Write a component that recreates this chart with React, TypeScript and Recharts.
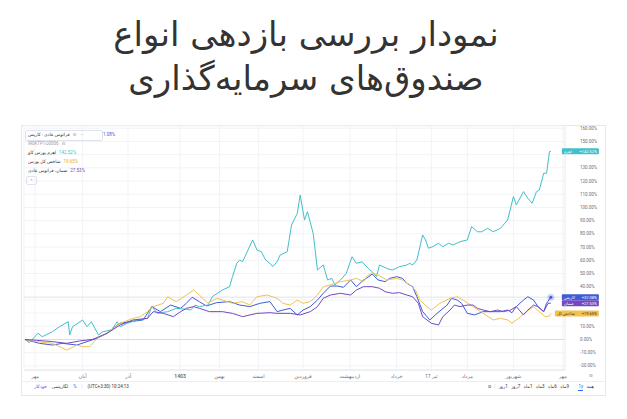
import { LineChart, Line, XAxis, YAxis, CartesianGrid, ReferenceLine, ReferenceDot } from "recharts";

const FONT = 'Roboto, "DejaVu Sans", sans-serif';

const titleLines = ["نمودار بررسی بازدهی انواع", "صندوق\u200cهای سرمایه\u200cگذاری"];

// days since start of window, cumulative return in %
const tealDays = [0, 3, 9, 12, 19, 24, 30, 31, 33, 40, 43, 46, 51, 54, 60, 64, 66, 71, 78, 85, 88, 92, 99, 105, 112, 115, 118, 121, 127, 130, 137, 142, 144, 147, 149, 151, 158, 161, 164, 167, 170, 172, 175, 177, 182, 185, 189, 191, 194, 196, 200, 203, 207, 210, 213, 215, 219, 223, 227, 230, 234, 236, 239, 241, 244, 246, 251, 255, 260, 265, 267, 269, 272, 276, 278, 280, 283, 287, 290, 294, 297, 302, 307, 310, 314, 317, 321, 325, 330, 333, 335, 339, 341, 346, 349, 352, 355, 357, 360, 362, 364, 365];
const tealValues = [0, -2.4, 4.7, 2.1, 5.9, 9.7, 13.5, 3.4, 9.7, 14.8, 9.7, 13.5, 3.4, 5.9, 7.2, 13.5, 9.7, 12.3, 14.8, 16, 24.9, 19.8, 21.1, 23.6, 22.9, 22.3, 26.1, 24.9, 26.1, 32.4, 37.5, 40, 47.6, 57.7, 60.2, 58.9, 75.4, 67.8, 66.5, 60.2, 57.7, 55.2, 58.9, 63.9, 66.5, 86.7, 95.5, 109.4, 90.5, 96.8, 80.4, 52.7, 56.5, 45.1, 46.3, 41.3, 45.1, 50.1, 62.7, 57.7, 58.9, 56.4, 53, 51.3, 47.6, 56.4, 53.9, 52.6, 55.2, 56.4, 57.7, 56.4, 60.2, 79.2, 75.4, 69.1, 70.3, 72.9, 70.3, 72.9, 71.6, 74.1, 75.4, 85.5, 81.6, 81.6, 84.2, 81.6, 84.2, 88, 90.5, 108.2, 101.9, 112, 107, 103.2, 112, 113.3, 125.9, 125.9, 142.3, 142.52];

const yellowDays = [0, 8, 19, 29, 36, 40, 45, 50, 57, 66, 75, 80, 85, 89, 96, 99, 105, 112, 117, 121, 127, 133, 137, 144, 151, 156, 161, 168, 175, 179, 184, 189, 193, 198, 203, 207, 212, 219, 226, 230, 235, 237, 241, 245, 251, 258, 262, 267, 271, 274, 279, 282, 288, 295, 300, 304, 311, 318, 325, 330, 335, 338, 344, 348, 353, 357, 361, 364, 365];
const yellowValues = [0, -1.6, -2.9, -8, -4.2, -5.4, -5.4, 0.9, 4.7, 12.3, 16, 17.3, 21.1, 24.9, 27.4, 32.4, 28.6, 33.7, 37.5, 33.7, 27.4, 31.2, 29.9, 27.4, 28.7, 26.1, 32.4, 33.7, 31.2, 27.4, 26.1, 29.9, 27.4, 28.7, 33.7, 40, 41.3, 43.8, 45.1, 46.3, 43.8, 47.6, 50.6, 48.9, 45.1, 46.3, 45.1, 41.3, 37.5, 29.9, 24.9, 22.3, 27.4, 31.2, 32.4, 29.9, 24.9, 19.8, 14.8, 16, 14.8, 12.3, 17.3, 21.1, 24.9, 21.1, 17.3, 17.8, 19.65];

const blueDays = [0, 10, 19, 26, 36, 43, 50, 57, 61, 66, 73, 82, 88, 94, 101, 108, 112, 116, 121, 126, 133, 142, 149, 156, 163, 170, 175, 179, 184, 189, 193, 198, 203, 207, 212, 217, 221, 226, 230, 235, 237, 241, 245, 250, 253, 258, 262, 265, 269, 272, 276, 281, 286, 293, 296, 300, 303, 307, 312, 318, 324, 330, 335, 338, 341, 346, 349, 353, 356, 360, 362, 365];
const blueValues = [0, -2.9, -4.2, -2.9, -4.2, -1.6, 0.9, 4.7, 8.5, 12.3, 13.5, 14.8, 24.9, 21.1, 26.1, 23.6, 27.4, 32, 28.6, 25.4, 27.9, 28.7, 26.1, 24.9, 27.4, 28.7, 21.1, 22.3, 23.6, 18.6, 22.3, 24.9, 29.9, 35, 40.5, 40.5, 39.5, 45.1, 40, 45.1, 46.3, 49.6, 45.1, 43.8, 46.3, 47.6, 46.3, 42.6, 40, 32.4, 21.1, 14.8, 19.8, 26.1, 31.2, 29.9, 27.4, 19.8, 18.6, 21.1, 21.1, 21.1, 22.3, 20.3, 24.9, 29.9, 32.4, 29.9, 24.9, 21.1, 27.4, 32.08];

const purpleDays = [0, 8, 19, 29, 38, 47, 57, 66, 75, 85, 89, 96, 103, 108, 112, 117, 121, 128, 137, 144, 151, 161, 170, 175, 184, 191, 198, 203, 207, 212, 219, 226, 230, 235, 237, 241, 246, 250, 255, 260, 265, 269, 273, 276, 282, 287, 290, 295, 298, 302, 307, 311, 314, 318, 323, 328, 332, 337, 341, 346, 349, 353, 356, 360, 363, 365];
const purpleValues = [0, -0.6, -1.6, -2.9, -1.1, 0.1, 4.7, 11, 14.8, 16, 21.1, 19.8, 17.3, 21.1, 23.6, 24.9, 23.6, 21.1, 21.1, 19.8, 17.3, 19.8, 20.3, 19.8, 19.8, 18.6, 21.1, 24.9, 31.2, 33.7, 35, 33.7, 37.5, 40, 40, 40, 38.8, 36.2, 35, 35.5, 33.7, 32.4, 27.4, 17.3, 12.3, 11, 17.3, 22.3, 26.1, 24.9, 26.1, 26.1, 23.6, 22.3, 21.1, 22.3, 21.1, 22.3, 24.9, 18.6, 22.3, 26.1, 24.9, 21.1, 27.4, 27.53];

const monthTicks = [7, 40, 71.5, 107.6, 135, 162, 193, 225.5, 258, 282, 307, 339, 373.4];
const monthLabels = ["مهر", "آبان", "آذر", "1403", "بهمن", "اسفند", "فروردین", "اردیبهشت", "خرداد", "17 تیر", "مرداد", "شهریور", "مهر"];
const percentTicks = [-20, -10, 0, 10, 20, 30, 40, 50, 60, 70, 80, 90, 100, 110, 120, 130, 140, 150, 160];

const rangeButtons = ["1روز", "7روز", "1ماه", "3ماه", "6ماه", "9ماه"];

const toData = (days: number[], values: number[]) => days.map((d, i) => ({ d, v: values[i] }));

const COLORS = { teal: "#41bfca", blue: "#3f5bd8", purple: "#7448c2", yellow: "#f2c24f" };

const series = [
    { key: "blue", name: "کاریس", color: COLORS.blue, data: toData(blueDays, blueValues), last: blueValues[blueValues.length - 1], text: "#fff", wide: false },
    { key: "teal", name: "اهرم", color: COLORS.teal, data: toData(tealDays, tealValues), last: tealValues[tealValues.length - 1], text: "#fff", wide: false },
    { key: "yellow", name: "شاخص کل", color: COLORS.yellow, data: toData(yellowDays, yellowValues), last: yellowValues[yellowValues.length - 1], text: "#333", wide: true },
    { key: "purple", name: "صمان", color: COLORS.purple, data: toData(purpleDays, purpleValues), last: purpleValues[purpleValues.length - 1], text: "#fff", wide: false },
];

// tick labels hidden behind the end-value tags, as on the reference
const lastValues = series.map(s => s.last);
const coveredByTag = (v: number) => lastValues.some(l => Math.abs(l - v) < 4.5);

const MonthTick = (props: any) => {
    const { x, y, payload } = props;
    const idx = monthTicks.indexOf(payload.value);
    const label = monthLabels[idx] ?? "";
    return (
        <text x={x} y={y} dy="0.71em" textAnchor="middle" fontSize={5} fill="#6a6d78" fontFamily={FONT} fontWeight={label === "1403" ? 700 : 400}>
            {label}
        </text>
    );
};

const PercentTick = (props: any) => {
    const { x, y, payload } = props;
    if (coveredByTag(payload.value)) return <g />;
    return (
        <text x={x} y={y} dy="0.35em" textAnchor="start" fontSize={4.5} fill="#6a6d78" fontFamily={FONT}>
            {`${payload.value.toFixed(2)}%`}
        </text>
    );
};

const makeTag = (s: typeof series[number]) => (props: any) => {
    const { cx, cy } = props;
    const left = s.wide ? cx + 4 : cx + 11;
    return (
        <g>
            <rect x={left} y={cy - 3} width={cx + 48 - left} height={6} fill={s.color} rx={1} />
            <text x={left + 2} y={cy} dy="0.35em" fontSize={4} fill={s.text} fontFamily={FONT}>{s.name}</text>
            <text x={cx + 46} y={cy} dy="0.35em" fontSize={4} fill={s.text} fontFamily={FONT} textAnchor="end">
                {`+${s.last.toFixed(2)}%`}
            </text>
        </g>
    );
};

const LastDot = (props: any) => {
    const { cx, cy } = props;
    return (
        <g>
            <circle cx={cx} cy={cy} r={3.5} fill={COLORS.blue} fillOpacity={0.25} />
            <circle cx={cx} cy={cy} r={1.5} fill={COLORS.blue} />
        </g>
    );
};

const small = { fontSize: 4.5, fontFamily: FONT, whiteSpace: "nowrap" as const, lineHeight: "6px" };
const abs = { ...small, position: "absolute" as const };
const row = (top: number) => ({ position: "absolute" as const, left: 28, top, display: "flex", gap: 3, alignItems: "center", ...small });

export default function App() {
    return (
        <div style={{ position: "absolute", left: 0, top: 0, width: 627, height: 419, background: "#fff", overflow: "hidden" }}>
            <div style={{ position: "absolute", left: 0, top: 12, width: 612, textAlign: "center", fontFamily: '"DejaVu Sans"', fontSize: 34, lineHeight: "44px", color: "#333", direction: "rtl" }}>
                <div>{titleLines[0]}</div>
                <div>{titleLines[1]}</div>
            </div>

            <div style={{ position: "absolute", left: 21, top: 125, width: 583, height: 269, border: "1px solid #e6e8ee" }} />
            <div style={{ position: "absolute", left: 21, top: 381, width: 584, height: 1, background: "#eceef2" }} />

            <div style={{ position: "absolute", left: 20, top: 125 }}>
                <LineChart width={585} height={257} margin={{ top: 1, right: 0, bottom: 0, left: 4 }}>
                    <CartesianGrid stroke="#f1f3f7" />
                    <XAxis dataKey="d" type="number" domain={[-0.7, 374.8]} allowDataOverflow ticks={monthTicks} tick={<MonthTick />} tickSize={0} tickMargin={4} height={12} axisLine={{ stroke: "#e4e6eb" }} interval={0} />
                    <YAxis orientation="right" type="number" domain={[-23.1, 161.7]} allowDataOverflow ticks={percentTicks} width={40} tickSize={0} tickMargin={15} axisLine={{ stroke: "#eef0f4" }} tick={<PercentTick />} interval={0} />
                    <ReferenceLine y={0} stroke="#d9dbe0" />
                    <ReferenceLine y={blueValues[blueValues.length - 1]} stroke="#e2e4e8" />
                    {series.map(s => (
                        <Line key={s.key} data={s.data} dataKey="v" type="linear" stroke={s.color} strokeWidth={1} dot={false} isAnimationActive={false} />
                    ))}
                    <ReferenceDot x={365} y={blueValues[blueValues.length - 1]} shape={<LastDot />} />
                    {series.map(s => (
                        <ReferenceDot key={`tag-${s.key}`} x={365} y={s.last} shape={makeTag(s)} />
                    ))}
                </LineChart>
            </div>

            {/* legend, top left */}
            <div style={{ position: "absolute", left: 25, top: 130, width: 76, height: 9, border: "1px solid #e0e3eb", borderRadius: 2 }} />
            <div style={{ ...row(132) }}>
                <span style={{ color: "#333" }}>فراتوس عادی · کاریس</span>
                <span style={{ color: "#888" }}>⊙</span>
                <span style={{ color: "#888" }}>···</span>
            </div>
            <span style={{ ...abs, left: 103, top: 132, color: COLORS.blue }}>1.08%</span>
            <div style={{ ...row(141) }}>
                <span style={{ color: "#9a9ca3" }}>IR0KTP1O0006</span>
                <span style={{ color: "#888" }}>⊙</span>
            </div>
            <div style={{ ...row(150) }}>
                <span style={{ color: "#333" }}>اهرم بورس کاو</span>
                <span style={{ color: COLORS.teal }}>142.52%</span>
            </div>
            <div style={{ ...row(159) }}>
                <span style={{ color: "#333" }}>شاخص کل بورس</span>
                <span style={{ color: "#e0ad2a" }}>19.65%</span>
            </div>
            <div style={{ ...row(168) }}>
                <span style={{ color: "#333" }}>صمان، فراتوس عادی</span>
                <span style={{ color: COLORS.purple }}>27.53%</span>
            </div>
            <div style={{ position: "absolute", left: 26, top: 176, width: 9, height: 7, border: "1px solid #e0e3eb", borderRadius: 2, fontSize: 5, lineHeight: "8px", textAlign: "center", color: "#555", fontFamily: FONT }}>˄</div>

            {/* bottom toolbar */}
            <span style={{ ...abs, left: 589, top: 373, color: "#6a6d78" }}>⊙</span>
            <div style={{ position: "absolute", left: 34, top: 384, display: "flex", gap: 5, ...small }}>
                <span style={{ color: "#2962ff" }}>خودکار</span>
                <span style={{ color: "#333" }}>لگاریتمی</span>
                <span style={{ color: "#2962ff" }}>%</span>
                <span style={{ color: "#ccc" }}>|</span>
                <span style={{ color: "#333" }}>(UTC+3:30) 10:24:13</span>
            </div>
            <div style={{ position: "absolute", right: 33, top: 384, display: "flex", gap: 3.5, ...small }}>
                <span style={{ color: "#555" }}>⧉</span>
                <span style={{ color: "#ccc" }}>|</span>
                {rangeButtons.map(r => (
                    <span key={r} style={{ color: "#333", direction: "rtl", unicodeBidi: "isolate" }}>{r}</span>
                ))}
                <span style={{ color: "#2962ff", borderBottom: "1px solid #2962ff", marginLeft: 6 }}>1y</span>
                <span style={{ color: "#333" }}>همه</span>
            </div>
        </div>
    );
}
